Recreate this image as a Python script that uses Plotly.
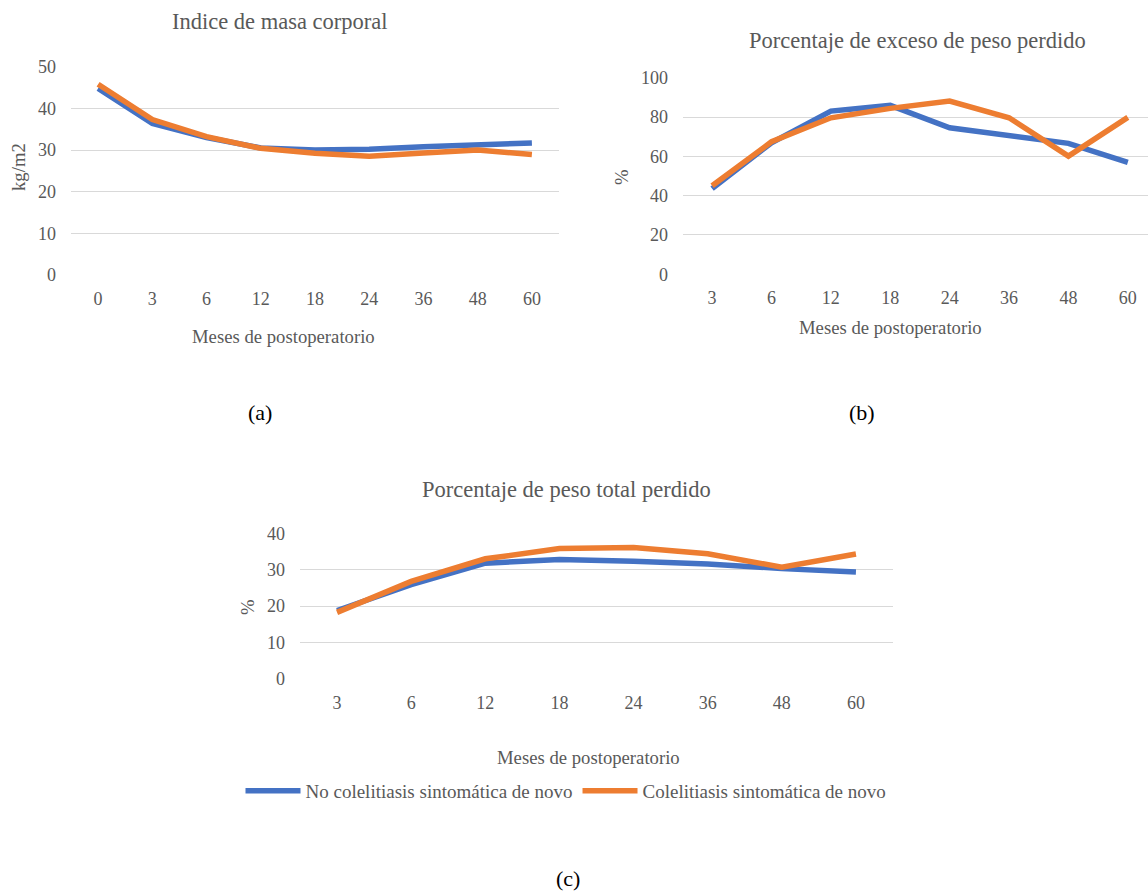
import plotly.graph_objects as go

# ---- data ----
meses_a = ["0", "3", "6", "12", "18", "24", "36", "48", "60"]
imc_no = [44.8, 36.4, 33.0, 30.5, 30.0, 30.2, 30.8, 31.4, 31.7]
imc_si = [45.8, 37.3, 33.2, 30.4, 29.2, 28.5, 29.3, 30.0, 28.9]

meses_b = ["3", "6", "12", "18", "24", "36", "48", "60"]
pep_no = [43.6, 66.9, 83.0, 85.9, 74.5, 70.3, 66.6, 56.9]
pep_si = [45.0, 67.4, 79.6, 84.4, 88.1, 79.6, 60.1, 79.8]

meses_c = ["3", "6", "12", "18", "24", "36", "48", "60"]
ptp_no = [18.8, 25.9, 31.8, 32.8, 32.3, 31.6, 30.3, 29.4]
ptp_si = [18.3, 26.8, 33.0, 35.8, 36.1, 34.4, 30.7, 34.3]

name_no = "No colelitiasis sintomática de novo"
name_si = "Colelitiasis sintomática de novo"

BLUE = "#4472C4"
ORANGE = "#ED7D31"
GREY = "#595959"
GRID = "#D9D9D9"
FONT = "Liberation Serif"

W, H = 1148, 892

fig = go.Figure()

def add_pair(xs, a, b, xa, ya, show):
    fig.add_trace(go.Scatter(x=xs, y=a, mode="lines", name=name_no,
                             line=dict(color=BLUE, width=5.5),
                             xaxis=xa, yaxis=ya, showlegend=show))
    fig.add_trace(go.Scatter(x=xs, y=b, mode="lines", name=name_si,
                             line=dict(color=ORANGE, width=5.5),
                             xaxis=xa, yaxis=ya, showlegend=show))

add_pair(meses_a, imc_no, imc_si, "x", "y", False)
add_pair(meses_b, pep_no, pep_si, "x2", "y2", False)
add_pair(meses_c, ptp_no, ptp_si, "x3", "y3", True)

def px(x):
    return x / W

def py(y):
    return (H - y) / H

xcommon = dict(type="category", showgrid=False, zeroline=False, showline=False,
               ticks="", tickfont=dict(family=FONT, size=18, color=GREY),
               ticklabelstandoff=11, fixedrange=True, automargin=False)
ycommon = dict(showgrid=True, gridcolor=GRID, gridwidth=1.3, zeroline=False,
               showline=False, ticks="", tickfont=dict(family=FONT, size=18, color=GREY),
               ticklabelstandoff=14, fixedrange=True, automargin=False)

fig.update_layout(
    width=W, height=H, autosize=False,
    margin=dict(l=0, r=0, t=0, b=0, pad=0, autoexpand=False),
    font=dict(family=FONT, color=GREY),
    paper_bgcolor="white", plot_bgcolor="white",
    xaxis=dict(xcommon, domain=[px(71), px(559)], anchor="y", range=[-0.5, 8.5]),
    yaxis=dict(ycommon, domain=[py(275), py(66.7)], anchor="x", range=[0, 50], dtick=10),
    xaxis2=dict(xcommon, domain=[px(683), 1.0], anchor="y2", range=[-0.49, 7.34]),
    yaxis2=dict(ycommon, domain=[py(274.3), py(77.7)], anchor="x2", range=[0, 100], dtick=20),
    xaxis3=dict(xcommon, domain=[px(300), px(893)], anchor="y3", range=[-0.5, 7.5]),
    yaxis3=dict(ycommon, domain=[py(679), py(533.3)], anchor="x3", range=[0, 40], dtick=10),
    showlegend=True,
    legend=dict(orientation="h", x=px(566), y=py(791), xanchor="center", yanchor="middle",
                font=dict(family=FONT, size=19, color=GREY), itemwidth=55,
                tracegroupgap=0, bgcolor="rgba(0,0,0,0)"),
)

def ann(text, x, y, size, color=GREY, angle=0):
    fig.add_annotation(text=text, x=px(x), y=py(y), xref="paper", yref="paper",
                       showarrow=False, xanchor="center", yanchor="middle",
                       textangle=angle, font=dict(family=FONT, size=size, color=color))

# titles
ann("Indice de masa corporal", 280, 21, 22.5)
ann("Porcentaje de exceso de peso perdido", 917, 40, 22.5)
ann("Porcentaje de peso total perdido", 566, 490, 22.5)
# axis titles
ann("Meses de postoperatorio", 283, 336, 18.7)
ann("Meses de postoperatorio", 890, 327, 18.7)
ann("Meses de postoperatorio", 589, 757, 18.7)
ann("kg/m2", 18, 167, 18.7, angle=-90)
ann("%", 622, 177, 18.7, angle=-90)
ann("%", 247, 607, 18.7, angle=-90)
# panel labels
ann("(a)", 260, 412, 22, color="black")
ann("(b)", 862, 412, 22, color="black")
ann("(c)", 568, 878, 22, color="black")

fig.write_html("out.html")
